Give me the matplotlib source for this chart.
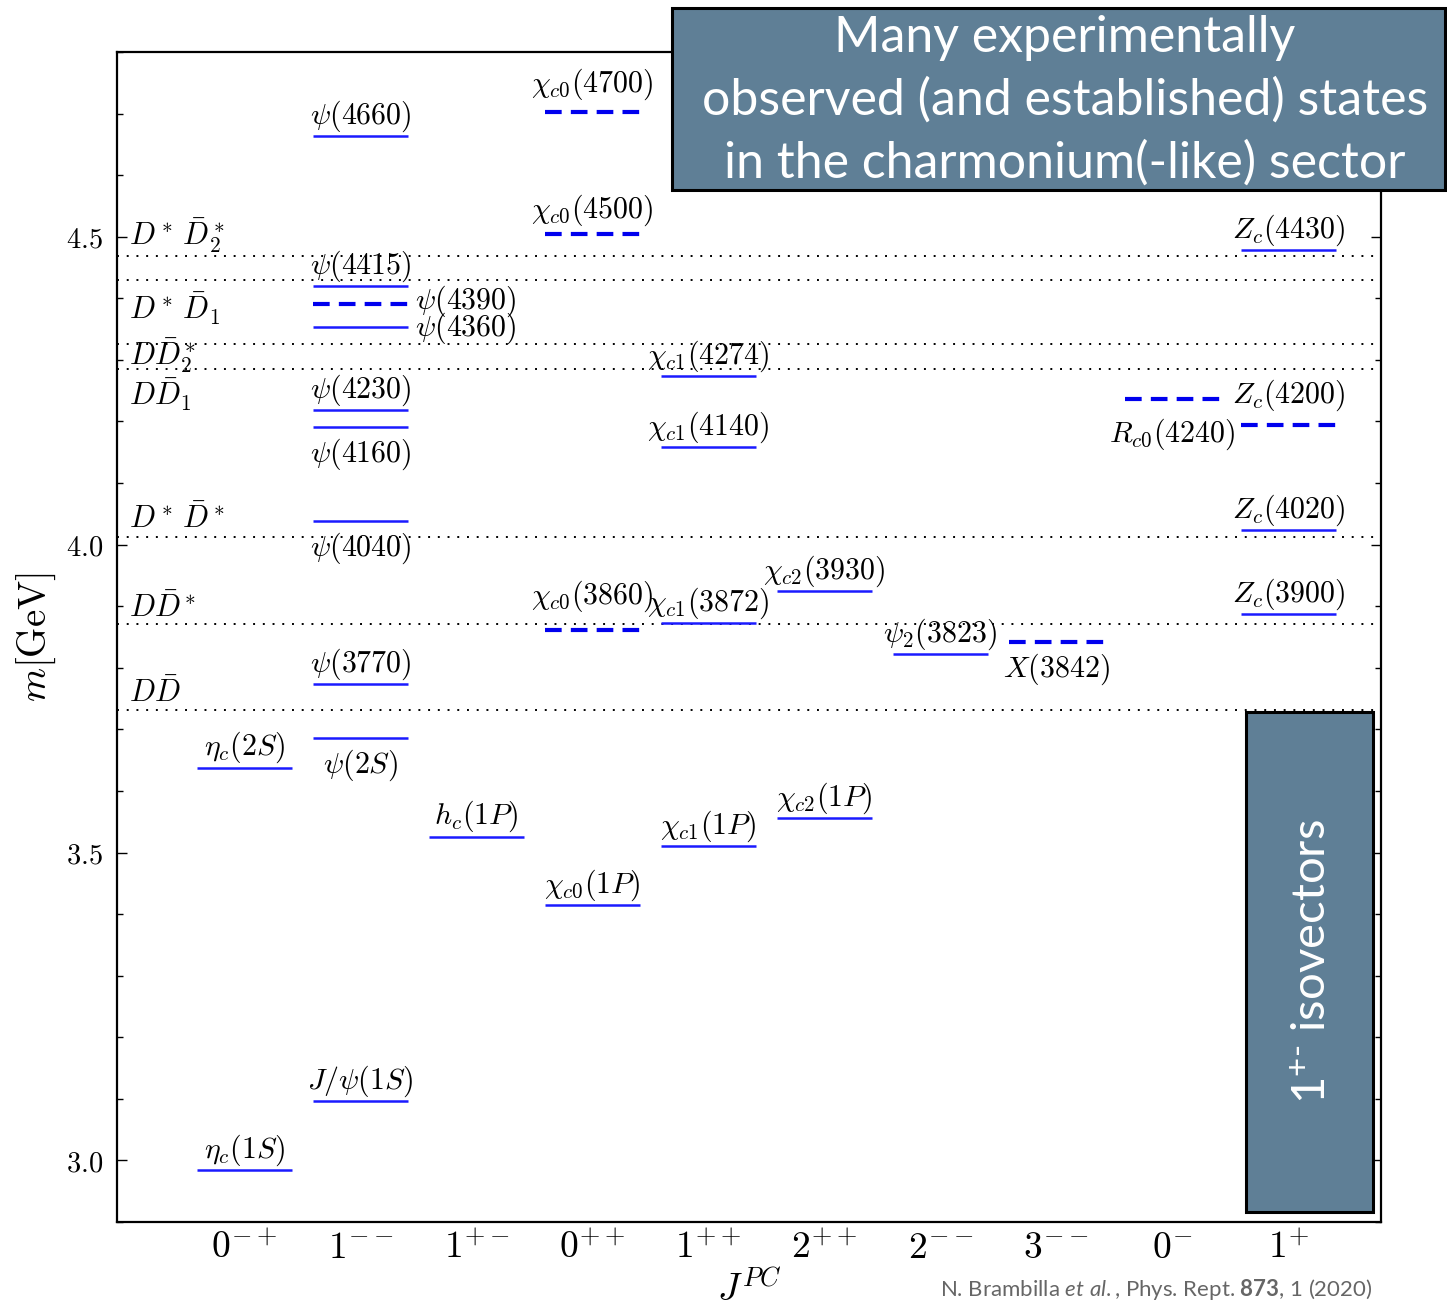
import matplotlib
matplotlib.use("Agg")
import matplotlib.pyplot as plt
from matplotlib.patches import Rectangle
from matplotlib.ticker import MultipleLocator, FuncFormatter

plt.rcParams["mathtext.fontset"] = "cm"
plt.rcParams["mathtext.rm"] = "Lato"
plt.rcParams["mathtext.it"] = "Lato:italic"
plt.rcParams["mathtext.bf"] = "Lato:bold"

# J^PC columns
jpc_labels = [r"$0^{-+}$", r"$1^{--}$", r"$1^{+-}$", r"$0^{++}$", r"$1^{++}$",
              r"$2^{++}$", r"$2^{--}$", r"$3^{--}$", r"$0^{-}$", r"$1^{+}$"]

# observed states: name, column index, mass [GeV], established (solid) or not (dashed)
state_names = [r"$\eta_c(1S)$", r"$\eta_c(2S)$",
               r"$J/\psi(1S)$", r"$\psi(2S)$", r"$\psi(3770)$", r"$\psi(4040)$",
               r"$\psi(4160)$", r"$\psi(4230)$", r"$\psi(4360)$", r"$\psi(4390)$",
               r"$\psi(4415)$", r"$\psi(4660)$",
               r"$h_c(1P)$",
               r"$\chi_{c0}(1P)$", r"$\chi_{c0}(3860)$", r"$\chi_{c0}(4500)$", r"$\chi_{c0}(4700)$",
               r"$\chi_{c1}(1P)$", r"$\chi_{c1}(3872)$", r"$\chi_{c1}(4140)$", r"$\chi_{c1}(4274)$",
               r"$\chi_{c2}(1P)$", r"$\chi_{c2}(3930)$",
               r"$\psi_2(3823)$",
               r"$X(3842)$",
               r"$R_{c0}(4240)$",
               r"$Z_c(4200)$", r"$Z_c(4430)$", r"$Z_c(4020)$", r"$Z_c(3900)$"]
state_column = [0, 0,
                1, 1, 1, 1, 1, 1, 1, 1, 1, 1,
                2,
                3, 3, 3, 3,
                4, 4, 4, 4,
                5, 5,
                6,
                7,
                8,
                9, 9, 9, 9]
state_mass = [2.984, 3.638,
              3.097, 3.686, 3.773, 4.038, 4.191, 4.218, 4.354, 4.390, 4.420, 4.663,
              3.526,
              3.415, 3.862, 4.504, 4.702,
              3.511, 3.872, 4.158, 4.274,
              3.556, 3.925,
              3.823,
              3.842,
              4.237,
              4.194, 4.478, 4.024, 3.888]
state_established = [True, True,
                     True, True, True, True, True, True, True, False, True, True,
                     True,
                     True, False, False, False,
                     True, True, True, True,
                     True, True,
                     True,
                     False,
                     False,
                     False, True, True, True]

# open-charm thresholds
threshold_names = [r"$D^*\,\bar{D}_2^*$", r"$D^*\,\bar{D}_1$", r"$D\bar{D}_2^*$",
                   r"$D\bar{D}_1$", r"$D^*\,\bar{D}^*$", r"$D\bar{D}^*$", r"$D\bar{D}$"]
threshold_mass = [4.469, 4.429, 4.326, 4.286, 4.013, 3.871, 3.731]

# label placement (side of the level, extra offset in points)
label_side = ["above", "above",
              "above", "below", "above", "below", "below", "above", "right", "right", "above", "above",
              "above",
              "above", "above", "above", "above",
              "above", "above", "above", "above",
              "above", "above",
              "above",
              "below",
              "below",
              "above", "above", "above", "above"]
label_extra = [0, 0,
               0, 0, 0, 0, 0, 0, -1.5, 2, 0, 0,
               0,
               0, 10, 3, 6,
               0, 0, 0, 0,
               0, 0,
               0,
               0,
               6,
               7, 0, 0, 0]
threshold_text_dy = [8, -28, -15, -27, 6, 5, 6]

W, H = 1447, 1311
fig = plt.figure(figsize=(W / 100, H / 100), dpi=100)
ax = fig.add_axes([117 / W, 1 - 1222 / H, (1381 - 117) / W, (1222 - 52) / H])

half = 0.41
level_color = "#1a1aff"
for name, col, m, est, side, extra in zip(state_names, state_column, state_mass,
                                           state_established, label_side, label_extra):
    if est:
        ax.hlines(m, col - half, col + half, colors=level_color, linewidth=1.8, zorder=3)
    else:
        ax.hlines(m, col - half, col + half, colors="#0000ee", linewidth=3.0,
                  linestyles=(0, (4, 2.2)), zorder=3)
    if side == "above":
        ax.annotate(name, (col, m), xytext=(0, 1.5 + extra), textcoords="offset points",
                    ha="center", va="bottom", fontsize=21.5, zorder=4)
    elif side == "below":
        ax.annotate(name, (col, m), xytext=(0, -7 - extra), textcoords="offset points",
                    ha="center", va="top", fontsize=21.5, zorder=4)
    else:
        ax.annotate(name, (col + half + 0.06, m), xytext=(0, extra), textcoords="offset points",
                    ha="left", va="center", fontsize=21.5, zorder=4)

for name, m, dy in zip(threshold_names, threshold_mass, threshold_text_dy):
    ax.axhline(m, color="black", linewidth=1.4, linestyle=(0, (1, 4)), zorder=2)
    ax.annotate(name, (-1.0, m), xytext=(0, dy), textcoords="offset points",
                ha="left", va="baseline", fontsize=22, zorder=4)

ax.set_xlim(-1.1, 9.8)
ax.set_ylim(2.9, 4.8)
ax.set_xticks(range(len(jpc_labels)))
ax.set_xticklabels(jpc_labels, fontsize=27)
ax.tick_params(axis="x", length=0, pad=6)

ax.yaxis.set_major_locator(MultipleLocator(0.5))
ax.yaxis.set_minor_locator(MultipleLocator(0.1))
ax.yaxis.set_major_formatter(FuncFormatter(lambda v, p: r"$%.1f$" % v))
ax.tick_params(axis="y", which="both", direction="in", left=True, right=True, labelsize=20.5, pad=10)
ax.tick_params(axis="y", which="major", length=7, width=1)
ax.tick_params(axis="y", which="minor", length=4, width=1)
for s in ax.spines.values():
    s.set_linewidth(1.6)

ax.set_ylabel(r"$m[\mathrm{GeV}]$", fontsize=28)
ax.yaxis.set_label_coords(-0.047, 0.5)
ax.set_xlabel(r"$J^{PC}$", fontsize=27)
ax.xaxis.set_label_coords(0.5, -0.043)

# headline box
box_color = "#5f7f96"
fig.add_artist(Rectangle((672 / W, 1 - 190 / H), (1445 - 672) / W, (190 - 8) / H,
                         transform=fig.transFigure, facecolor=box_color,
                         edgecolor="black", linewidth=2.2, zorder=5))
headline = ["Many experimentally", "observed (and established) states",
            "in the charmonium(-like) sector"]
for line, yp in zip(headline, [38, 100, 163]):
    fig.text(1065 / W, 1 - yp / H, line, ha="center", va="center", color="white",
             fontsize=36, family="Lato", zorder=6)

# isovector box
fig.add_artist(Rectangle((1246 / W, 1 - 1212 / H), (1373 - 1246) / W, (1212 - 712) / H,
                         transform=fig.transFigure, facecolor=box_color,
                         edgecolor="black", linewidth=2.2, zorder=5))
fig.text(1313 / W, 1 - 962 / H, r"1$^{+\text{-}}$ isovectors", ha="center", va="center",
         rotation=90, color="white", fontsize=34, family="Lato", math_fontfamily="custom", zorder=6)

fig.text(1373 / W, 1 - 1290 / H,
         r"N. Brambilla $\mathit{et\ al.}$, Phys. Rept. $\mathbf{873}$, 1 (2020)",
         ha="right", va="center", color="#666666", fontsize=16, family="Lato",
         math_fontfamily="custom")

fig.savefig("out.png", dpi=100)
